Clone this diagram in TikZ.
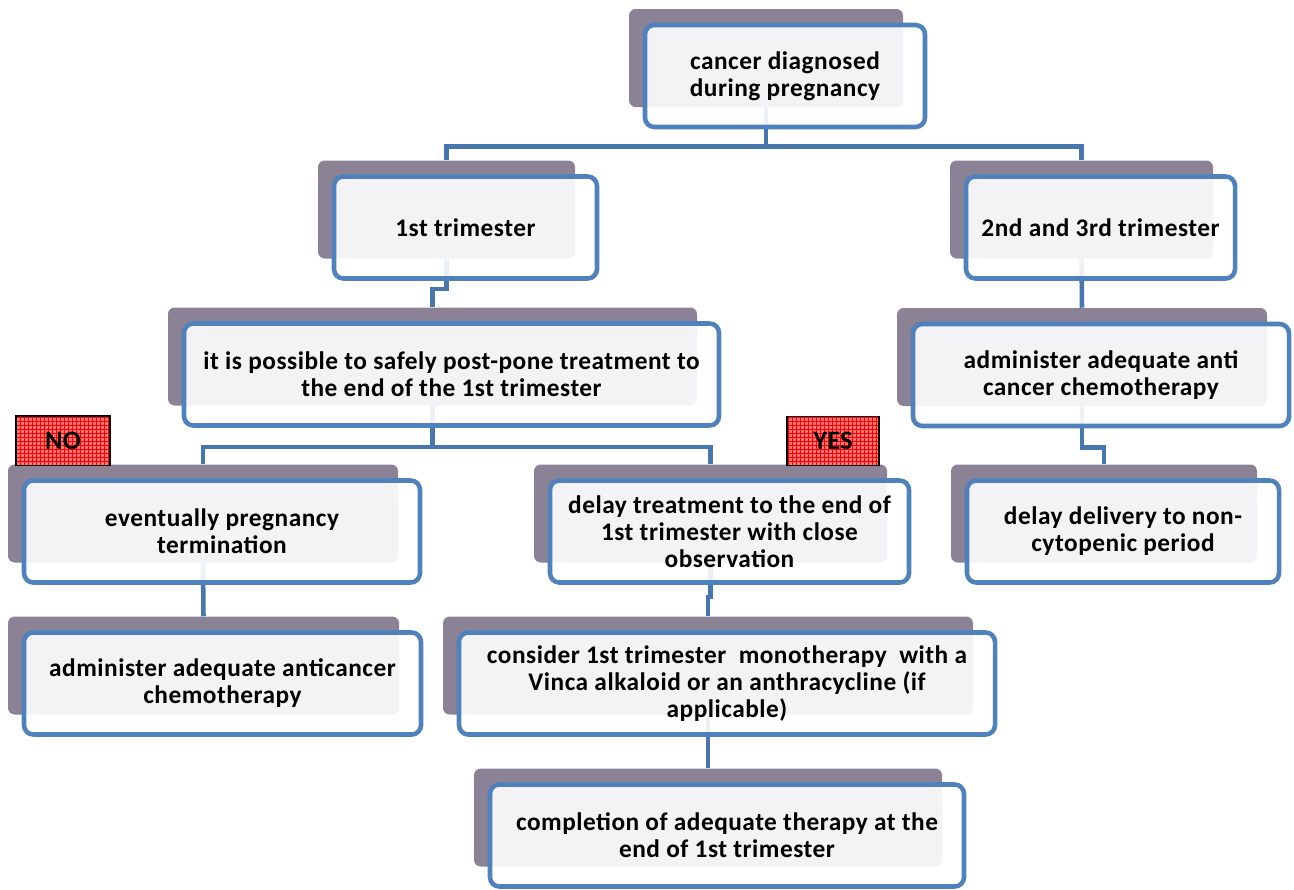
\documentclass[tikz,border=0pt]{standalone}
\usepackage{fontspec}
\setmainfont{Carlito}
\usetikzlibrary{patterns}

\definecolor{backgrey}{RGB}{139,130,150}
\definecolor{boxblue}{RGB}{79,129,189}
\definecolor{linkblue}{RGB}{72,118,174}
\definecolor{tagred}{RGB}{255,118,118}

\begin{document}
\begin{tikzpicture}[
    x=0.75pt, y=-0.75pt,
    back/.style={fill=backgrey, rounded corners=5pt, inner sep=0pt,
                 minimum height=73.5pt},
    front/.style={draw=boxblue, line width=3.4pt, rounded corners=7pt,
                  fill=white, fill opacity=0.9, text opacity=1,
                  align=center, inner sep=2pt, minimum height=76.5pt,
                  font=\fontsize{19pt}{20.25pt}\selectfont\bfseries\addfontfeature{LetterSpace=2}},
    tag/.style={draw=black, line width=1pt, preaction={fill=tagred},
                pattern=grid, pattern color=red, minimum height=37pt,
                font=\fontsize{20pt}{22pt}\selectfont\bfseries},
    conn/.style={draw=linkblue, line width=3.4pt}
]
\useasboundingbox (0,0) rectangle (1294,889);

% shadow boxes
\node[back, minimum width=205.5pt] (diag) at (766,58) {};
\node[back, minimum width=192.75pt] (tri1) at (446.5,209.5) {};
\node[back, minimum width=197.25pt] (tri23) at (1081.5,209.5) {};
\node[back, minimum width=396.75pt] (postpone) at (432.5,356.5) {};
\node[back, minimum width=277.5pt] (chemo) at (1082,357) {};
\node[back, minimum width=229.5pt] (delivery) at (1104,513.5) {};
\node[back, minimum width=292.5pt] (termin) at (203,513.5) {};
\node[back, minimum width=264.75pt] (delay) at (710.5,513.5) {};
\node[back, minimum width=293.25pt] (anticancer) at (203.5,665.5) {};
\node[back, minimum width=397.5pt] (mono) at (708,665.5) {};
\node[back, minimum width=351pt] (complete) at (708,817.5) {};

% connectors
\draw[conn] (diag.south) -- ++(0,39) coordinate (bar1);
\draw[conn] (tri1.north) |- (bar1) -| (tri23.north);
\draw[conn] (tri1.south) -- ++(0,30) -| (postpone.north);
\draw[conn] (tri23.south) -- (chemo.north);
\draw[conn] (postpone.south) -- ++(0,41) coordinate (bar2);
\draw[conn] (termin.north) |- (bar2) -| (delay.north);
\draw[conn] (chemo.south) -- ++(0,41) -| (delivery.north);
\draw[conn] (termin.south) -- (anticancer.north);
\draw[conn] (delay.south) -- ++(0,34) -| (mono.north);
\draw[conn] (mono.south) -- (complete.north);

% text boxes
\node[front, minimum width=210pt] (diag-t) at ([shift={(19,18)}]diag.center)
    {cancer diagnosed\\during pregnancy};
\node[front, minimum width=197.25pt] (tri1-t) at ([shift={(19,18)}]tri1.center)
    {1st trimester};
\node[front, minimum width=201.75pt] (tri23-t) at ([shift={(19,18)}]tri23.center)
    {2nd and 3rd trimester};
\node[front, minimum width=401.25pt] (postpone-t) at ([shift={(19,18)}]postpone.center)
    {it is possible to safely post-pone treatment to\\the end of the 1st trimester};
\node[front, minimum width=282pt] (chemo-t) at ([shift={(19,18)}]chemo.center)
    {administer adequate anti\\cancer chemotherapy};
\node[front, minimum width=234pt] (delivery-t) at ([shift={(19,18)}]delivery.center)
    {delay delivery to non-\\cytopenic period};
\node[front, minimum width=297pt] (termin-t) at ([shift={(19,18)}]termin.center)
    {eventually pregnancy\\termination};
\node[front, minimum width=269.25pt] (delay-t) at ([shift={(19,18)}]delay.center)
    {delay treatment to the end of\\1st trimester with close\\observation};
\node[front, minimum width=297.75pt] (anticancer-t) at ([shift={(19,18)}]anticancer.center)
    {administer adequate anticancer\\chemotherapy};
\node[front, minimum width=402pt] (mono-t) at ([shift={(19,18)}]mono.center)
    {consider 1st trimester \ monotherapy \ with a\\Vinca alkaloid or an anthracycline (if\\applicable)};
\node[front, minimum width=355.5pt] (complete-t) at ([shift={(19,18)}]complete.center)
    {completion of adequate therapy at the\\end of 1st trimester};

% answers
\node[tag, minimum width=70.5pt] (no) at (63,440.5) {NO};
\node[tag, minimum width=69pt] (yes) at (833,441) {YES};
\end{tikzpicture}
\end{document}
